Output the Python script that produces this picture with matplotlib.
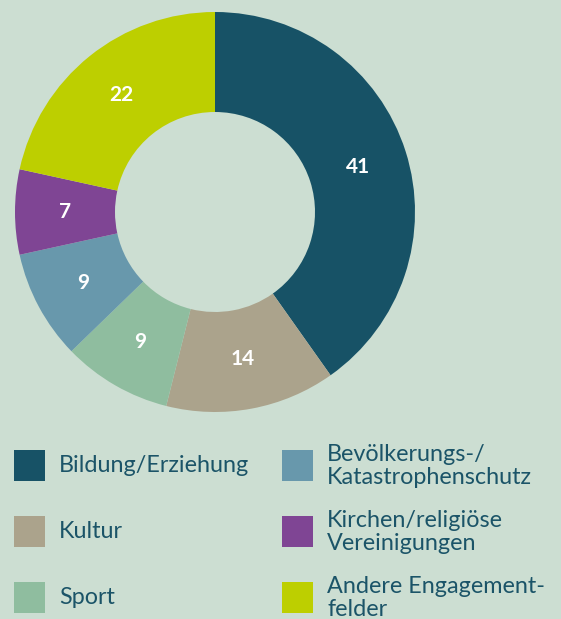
import matplotlib.pyplot as plt
from matplotlib.patches import Rectangle

# Engagementfelder (Anteile in %)
categories = ['Bildung/Erziehung', 'Kultur', 'Sport',
              'Bevölkerungs-/\nKatastrophenschutz', 'Kirchen/religiöse\nVereinigungen',
              'Andere Engagement-\nfelder']
values = [41, 14, 9, 9, 7, 22]
colors = ['#175266', '#ABA38C', '#8FBD9F', '#6898AC', '#7F4594', '#BDCF00']

bg = '#CCDED2'
text_col = '#1B5468'
W, H = 561, 619

fig = plt.figure(figsize=(W / 100, H / 100), dpi=100, facecolor=bg)

# Donut
ax = fig.add_axes([15 / W, (H - 412) / H, 400 / W, 400 / H])
ax.set_facecolor(bg)
wedges, _, autotexts = ax.pie(values, colors=colors, startangle=90, counterclock=False,
                              radius=1, wedgeprops=dict(width=0.5, linewidth=0),
                              autopct=lambda p: '{:.0f}'.format(p * sum(values) / 100),
                              pctdistance=0.75)
for t in autotexts:
    t.set_color('white')
    t.set_fontsize(15)
    t.set_fontweight('bold')
    t.set_family('Lato')
ax.set_xlim(-1, 1)
ax.set_ylim(-1, 1)
ax.set_aspect('equal')
ax.axis('off')

# Legende (2 Spalten x 3 Zeilen)
for i, (lab, c) in enumerate(zip(categories, colors)):
    col, row = i // 3, i % 3
    x0 = 14 + col * 268
    yc = 465 + row * 66
    fig.patches.append(Rectangle((x0 / W, 1 - (yc + 15.5) / H), 31 / W, 31 / H,
                                 transform=fig.transFigure, color=c, linewidth=0))
    fig.text((x0 + 45) / W, 1 - (yc + 1) / H, lab, ha='left', va='center',
             fontsize=16.8, family='Lato', color=text_col, linespacing=1.08)

fig.savefig('out.png', dpi=100, facecolor=bg)
